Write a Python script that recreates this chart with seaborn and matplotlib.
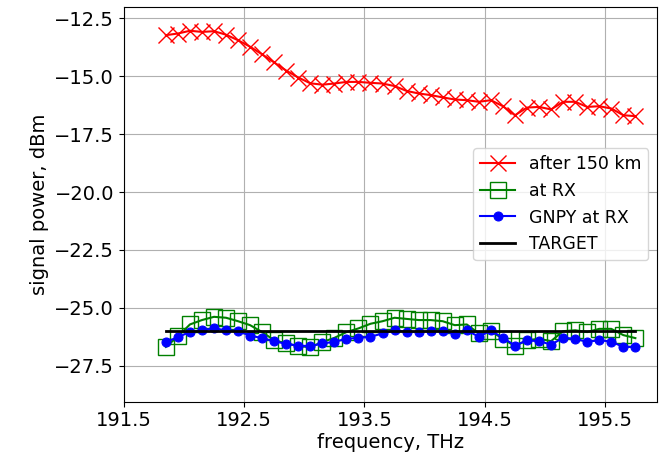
import numpy as np
import pandas as pd
import matplotlib
matplotlib.use("Agg")
import matplotlib.pyplot as plt
import seaborn as sns

# channel frequencies, THz (100 GHz grid)
freq = [191.85 + 0.1 * i for i in range(40)]

# signal power after the first 150 km span, dBm
after_150km = [-13.22, -13.15, -13.03, -13.08, -13.05, -13.20, -13.44, -13.72, -14.05, -14.40,
               -14.75, -15.05, -15.30, -15.36, -15.31, -15.24, -15.24, -15.28, -15.31, -15.42,
               -15.63, -15.74, -15.81, -15.91, -16.00, -16.03, -16.10, -16.03, -16.29, -16.68,
               -16.35, -16.32, -16.43, -16.10, -16.10, -16.32, -16.29, -16.39, -16.68, -16.72]

# measured at receiver
at_rx = [-26.69, -26.24, -25.72, -25.53, -25.39, -25.43, -25.58, -25.75, -26.05, -26.40,
         -26.54, -26.66, -26.70, -26.48, -26.30, -26.05, -25.89, -25.69, -25.58, -25.43,
         -25.48, -25.53, -25.53, -25.58, -25.75, -25.72, -26.11, -26.01, -26.34, -26.66,
         -26.40, -26.34, -26.44, -26.01, -25.97, -26.05, -25.91, -25.91, -26.18, -26.31]

# GNPY estimate at receiver
gnpy_rx = [-26.48, -26.27, -26.04, -25.97, -25.89, -25.97, -26.01, -26.20, -26.31, -26.44,
           -26.56, -26.63, -26.66, -26.54, -26.47, -26.34, -26.30, -26.25, -26.11, -25.98,
           -26.04, -26.04, -26.01, -26.01, -26.12, -25.98, -26.25, -25.98, -26.30, -26.63,
           -26.41, -26.44, -26.59, -26.30, -26.34, -26.47, -26.40, -26.46, -26.69, -26.69]

target = [-26.0] * len(freq)

df = pd.DataFrame({"freq": freq, "after": after_150km, "rx": at_rx,
                   "gnpy": gnpy_rx, "target": target})

fig, ax = plt.subplots(figsize=(6.65, 4.61), dpi=100)
fig.subplots_adjust(left=0.186, right=0.988, bottom=0.129, top=0.985)

# seaborn defaults marker edges to white, so set them explicitly
sns.lineplot(data=df, x="freq", y="after", ax=ax, color="red", marker="x",
             markersize=12, markeredgewidth=1.0, markeredgecolor="red",
             linewidth=1.5, label="after 150 km")
sns.lineplot(data=df, x="freq", y="rx", ax=ax, color="green", marker="s",
             markersize=11, mfc="none", markeredgewidth=1.0, markeredgecolor="green",
             linewidth=1.5, label="at RX")
sns.lineplot(data=df, x="freq", y="gnpy", ax=ax, color="blue", marker="o",
             markersize=6.5, markeredgecolor="blue", linewidth=1.5, label="GNPY at RX")
sns.lineplot(data=df, x="freq", y="target", ax=ax, color="black", linewidth=2,
             label="TARGET")

ax.set_xlim(191.5, 195.93)
ax.set_ylim(-29.05, -12.0)
ax.set_xticks([191.5, 192.5, 193.5, 194.5, 195.5])
ax.set_yticks([-12.5, -15.0, -17.5, -20.0, -22.5, -25.0, -27.5])
ax.grid(True)
ax.tick_params(labelsize=14)
ax.set_xlabel("frequency, THz", fontsize=14, labelpad=2)
ax.set_ylabel("signal power, dBm", fontsize=14)
ax.legend(loc="center right", fontsize=12.5)

fig.savefig("out.png", dpi=100)
